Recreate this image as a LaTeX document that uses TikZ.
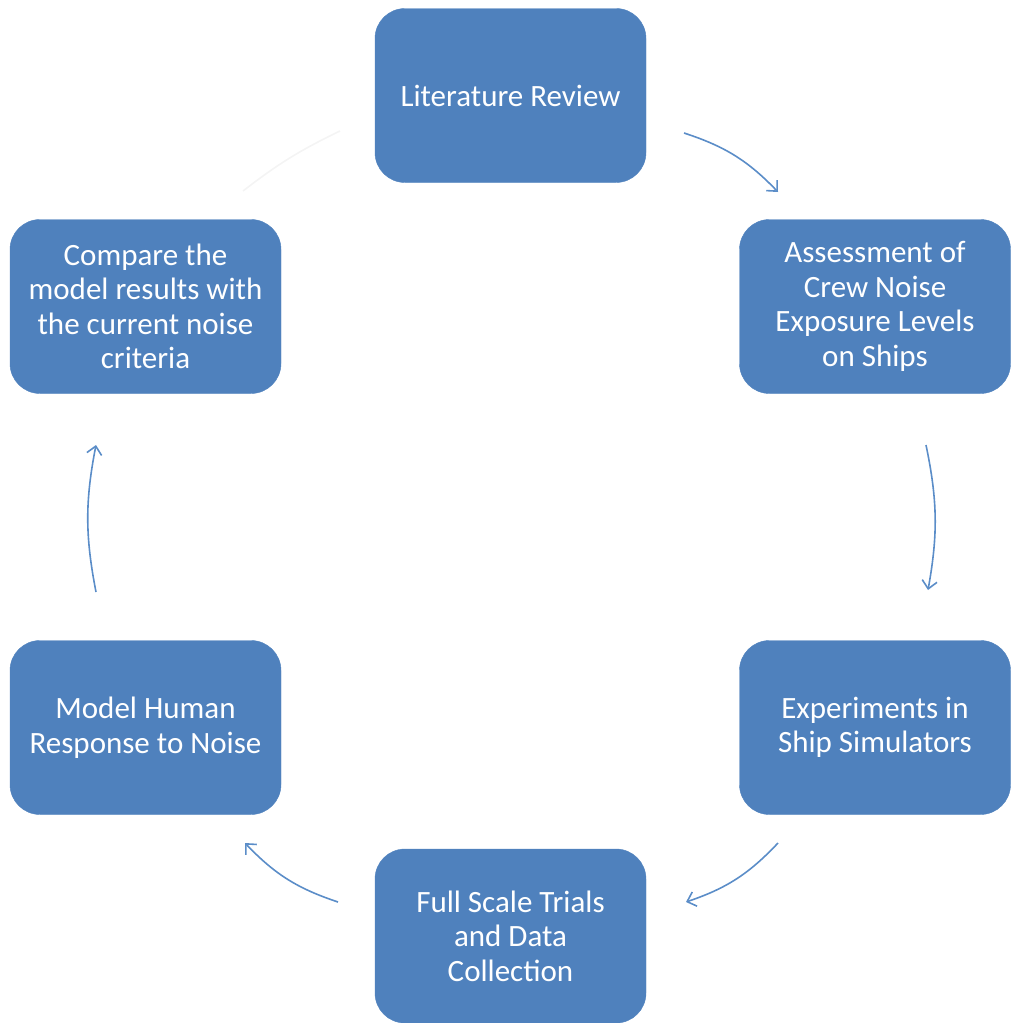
\documentclass[tikz,border=0pt]{standalone}
\usepackage{fontspec}
\setmainfont{Carlito}
\usetikzlibrary{arrows.meta}
\definecolor{stepblue}{HTML}{4F81BD}
\definecolor{arrowblue}{HTML}{5B8DC8}
\definecolor{faintline}{HTML}{F4F4F4}
\tikzset{
  stage/.style={draw=stepblue, fill=stepblue, rounded corners=30pt,
    minimum width=271pt, minimum height=174pt, inner sep=0pt,
    align=center, text=white,
    font=\fontsize{31pt}{34.5pt}\selectfont},
  flow/.style={draw=arrowblue, line width=1.6pt,
    -{Straight Barb[length=8pt,width=15pt,line width=1.6pt]}},
  faint/.style={draw=faintline, line width=1.6pt}
}
\begin{document}
\begin{tikzpicture}[x=1pt,y=-1pt]
  \useasboundingbox (0,0) rectangle (1010,1023);
  % the six stages of the study cycle
  \node[stage] (lit)  at (510.5,95.5)  {Literature Review};
  \node[stage] (ass)  at (875,306.5)   {Assessment of\\Crew Noise\\Exposure Levels\\on Ships};
  \node[stage] (exp)  at (875,727.5)   {Experiments in\\Ship Simulators};
  \node[stage] (full) at (510.5,936)   {Full Scale Trials\\and Data\\Collection};
  \node[stage] (mod)  at (145.5,727.5) {Model Human\\Response to Noise};
  \node[stage] (cmp)  at (145.5,306.5) {Compare the\\model results with\\the current noise\\criteria};
  % arrow end points around the cycle
  \coordinate (a1) at (684,133);
  \coordinate (b1) at (778,192);
  \coordinate (a2) at (926,445);
  \coordinate (b2) at (928,590);
  \coordinate (a3) at (778,843);
  \coordinate (b3) at (686,902);
  \coordinate (a4) at (338,902);
  \coordinate (b4) at (245,843);
  \coordinate (a5) at (96,592);
  \coordinate (b5) at (96,445);
  \coordinate (a6) at (243,191);
  \coordinate (b6) at (340,131);
  % connectors
  \draw[flow] (a1) to[bend left=14] (b1);
  \draw[flow] (a2) to[bend left=11] (b2);
  \draw[flow] (a3) to[bend left=14] (b3);
  \draw[flow] (a4) to[bend left=14] (b4);
  \draw[flow] (a5) to[bend left=11] (b5);
  \draw[faint] (a6) to[bend left=6] (b6);
\end{tikzpicture}
\end{document}
